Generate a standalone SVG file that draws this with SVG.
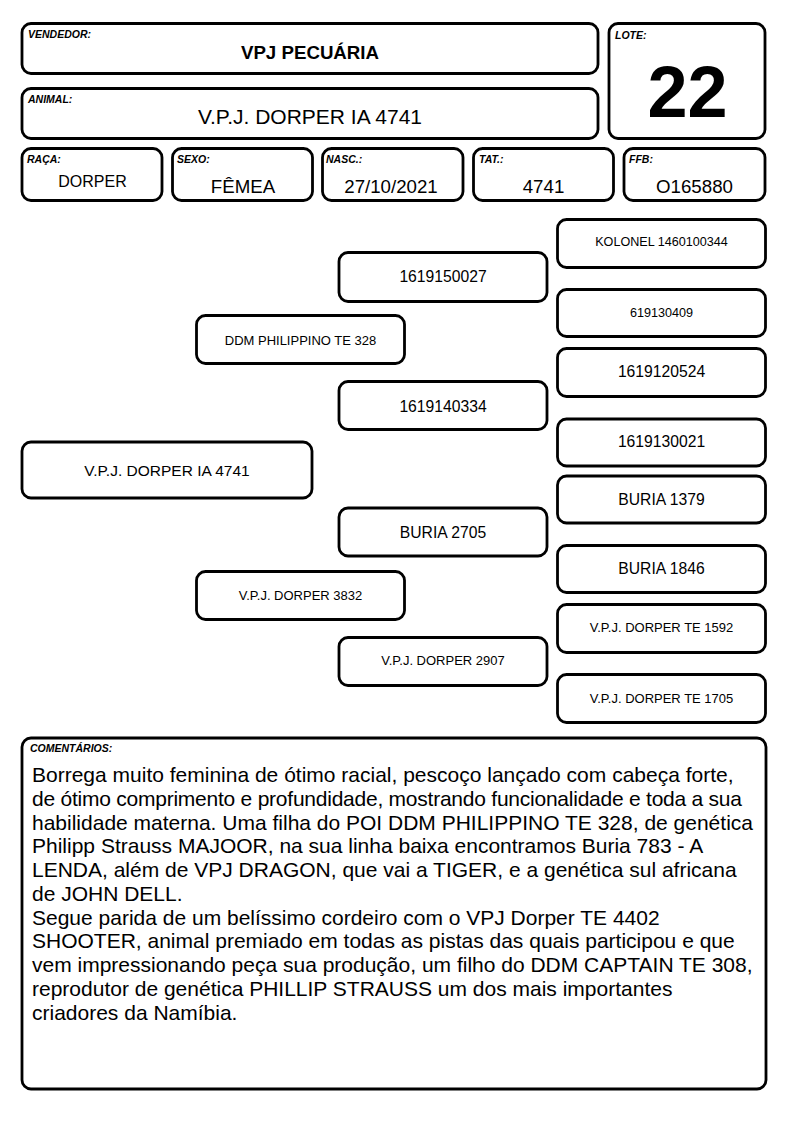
<svg xmlns="http://www.w3.org/2000/svg" width="794" height="1123" viewBox="0 0 794 1123">
<style>
  .box { fill: #ffffff; stroke: #000000; stroke-width: 2.8; }
  .lbl { font-family: "Liberation Sans", Arial, sans-serif; font-size: 10.5px; font-weight: bold; font-style: italic; fill: #000; }
  .t { font-family: "Liberation Sans", Arial, sans-serif; fill: #000; text-anchor: middle; }
  .big { font-size: 21px; }
  .val { font-size: 18.7px; }
  .p16 { font-size: 15.7px; }
  .p13 { font-size: 13px; }
  .p12 { font-size: 12.6px; }
  .cm { font-family: "Liberation Sans", Arial, sans-serif; font-size: 21px; fill: #000; }
</style>
<rect width="794" height="1123" fill="#ffffff"/>

<g id="vendedor">
  <rect class="box" x="22" y="23.5" width="576" height="50" rx="9"/>
  <text class="lbl" x="28" y="38">VENDEDOR:</text>
  <text class="t" x="310" y="59" font-size="18.7" font-weight="bold">VPJ PECUÁRIA</text>
</g>
<g id="animal">
  <rect class="box" x="22" y="88.5" width="576" height="50" rx="9"/>
  <text class="lbl" x="28" y="103">ANIMAL:</text>
  <text class="t big" x="310" y="124">V.P.J. DORPER IA 4741</text>
</g>
<g id="lote">
  <rect class="box" x="609" y="23.5" width="156" height="115" rx="9"/>
  <text class="lbl" x="615" y="39">LOTE:</text>
  <text class="t" x="687.5" y="117" font-size="72" font-weight="bold">22</text>
</g>
<g id="raca">
  <rect class="box" x="22" y="148.5" width="140" height="52" rx="9"/>
  <text class="lbl" x="27" y="163">RAÇA:</text>
  <text class="t" x="92.5" y="187" font-size="16">DORPER</text>
</g>
<g id="sexo">
  <rect class="box" x="172.5" y="148.5" width="140" height="52" rx="9"/>
  <text class="lbl" x="177" y="163">SEXO:</text>
  <text class="t val" x="243" y="193">FÊMEA</text>
</g>
<g id="nasc">
  <rect class="box" x="322.5" y="148.5" width="140.5" height="52" rx="9"/>
  <text class="lbl" x="326" y="163">NASC.:</text>
  <text class="t val" x="391" y="193">27/10/2021</text>
</g>
<g id="tat">
  <rect class="box" x="473.5" y="148.5" width="140" height="52" rx="9"/>
  <text class="lbl" x="479" y="163">TAT.:</text>
  <text class="t val" x="543.5" y="193">4741</text>
</g>
<g id="ffb">
  <rect class="box" x="624" y="148.5" width="141" height="52" rx="9"/>
  <text class="lbl" x="629" y="163">FFB:</text>
  <text class="t val" x="694.5" y="193">O165880</text>
</g>

<g id="connectors"></g>

<g id="p-animal">
  <rect class="box" x="22" y="442" width="290" height="56" rx="9"/>
  <text class="t" x="167" y="476" font-size="15.5">V.P.J. DORPER IA 4741</text>
</g>
<g id="p-sire">
  <rect class="box" x="196.5" y="315.5" width="208" height="48" rx="9"/>
  <text class="t p13" x="300.5" y="345">DDM PHILIPPINO TE 328</text>
</g>
<g id="p-dam">
  <rect class="box" x="196.5" y="571.5" width="208" height="48" rx="9"/>
  <text class="t p13" x="300.5" y="600">V.P.J. DORPER 3832</text>
</g>
<g id="p-ss">
  <rect class="box" x="339" y="252.5" width="208" height="49" rx="9"/>
  <text class="t p16" x="443" y="282">1619150027</text>
</g>
<g id="p-sd">
  <rect class="box" x="339" y="381.5" width="208" height="48" rx="9"/>
  <text class="t p16" x="443" y="412">1619140334</text>
</g>
<g id="p-ds">
  <rect class="box" x="339" y="508" width="208" height="48" rx="9"/>
  <text class="t p16" x="443" y="538">BURIA 2705</text>
</g>
<g id="p-dd">
  <rect class="box" x="339" y="637.5" width="208" height="48" rx="9"/>
  <text class="t p13" x="443" y="665">V.P.J. DORPER 2907</text>
</g>
<g id="p-sss">
  <rect class="box" x="557.5" y="219.5" width="208" height="48" rx="9"/>
  <text class="t p12" x="661.5" y="246">KOLONEL 1460100344</text>
</g>
<g id="p-ssd">
  <rect class="box" x="557.5" y="289.5" width="208" height="47" rx="9"/>
  <text class="t p12" x="661.5" y="317">619130409</text>
</g>
<g id="p-sds">
  <rect class="box" x="557.5" y="348.5" width="208" height="48" rx="9"/>
  <text class="t p16" x="661.5" y="377">1619120524</text>
</g>
<g id="p-sdd">
  <rect class="box" x="557.5" y="419" width="208" height="47" rx="9"/>
  <text class="t p16" x="661.5" y="447">1619130021</text>
</g>
<g id="p-dss">
  <rect class="box" x="557.5" y="476" width="208" height="47" rx="9"/>
  <text class="t p16" x="661.5" y="505">BURIA 1379</text>
</g>
<g id="p-dsd">
  <rect class="box" x="557.5" y="545.5" width="208" height="47" rx="9"/>
  <text class="t p16" x="661.5" y="574">BURIA 1846</text>
</g>
<g id="p-dds">
  <rect class="box" x="557.5" y="604.5" width="208" height="48" rx="9"/>
  <text class="t p13" x="661.5" y="632">V.P.J. DORPER TE 1592</text>
</g>
<g id="p-ddd">
  <rect class="box" x="557.5" y="674.5" width="208" height="48" rx="9"/>
  <text class="t p13" x="661.5" y="703">V.P.J. DORPER TE 1705</text>
</g>

<g id="comentarios">
  <rect class="box" x="22" y="738" width="744" height="351" rx="9"/>
  <text class="lbl" x="30" y="752">COMENTÁRIOS:</text>
  <text class="cm" x="32" y="782">Borrega muito feminina de ótimo racial, pescoço lançado com cabeça forte,</text>
  <text class="cm" x="32" y="806" textLength="710" lengthAdjust="spacing">de ótimo comprimento e profundidade, mostrando funcionalidade e toda a sua</text>
  <text class="cm" x="32" y="830">habilidade materna. Uma filha do POI DDM PHILIPPINO TE 328, de genética</text>
  <text class="cm" x="32" y="853">Philipp Strauss MAJOOR, na sua linha baixa encontramos Buria 783 - A</text>
  <text class="cm" x="32" y="877">LENDA, além de VPJ DRAGON, que vai a TIGER, e a genética sul africana</text>
  <text class="cm" x="32" y="901">de JOHN DELL.</text>
  <text class="cm" x="32" y="925">Segue parida de um belíssimo cordeiro com o VPJ Dorper TE 4402</text>
  <text class="cm" x="32" y="948">SHOOTER, animal premiado em todas as pistas das quais participou e que</text>
  <text class="cm" x="32" y="972">vem impressionando peça sua produção, um filho do DDM CAPTAIN TE 308,</text>
  <text class="cm" x="32" y="996">reprodutor de genética PHILLIP STRAUSS um dos mais importantes</text>
  <text class="cm" x="32" y="1020">criadores da Namíbia.</text>
</g>
</svg>
